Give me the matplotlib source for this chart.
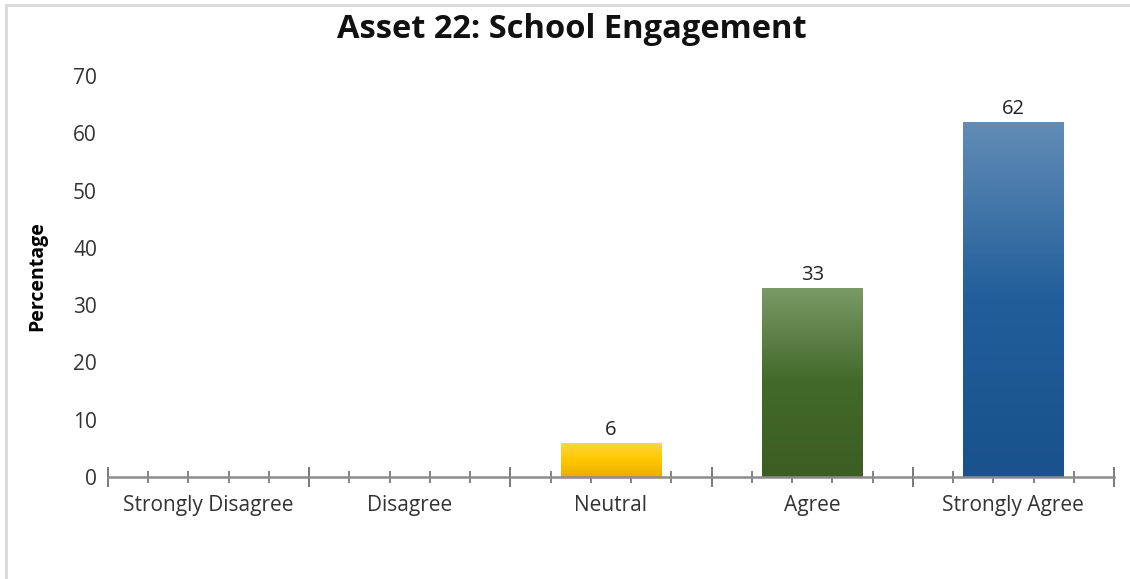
import numpy as np
import matplotlib
matplotlib.use("Agg")
import matplotlib.pyplot as plt
from matplotlib.colors import LinearSegmentedColormap
from matplotlib.lines import Line2D

plt.rcParams['font.family'] = ['Open Sans', 'DejaVu Sans']

# Data
categories = ["Strongly Disagree", "Disagree", "Neutral", "Agree", "Strongly Agree"]
percentages = [0, 0, 6, 33, 62]
labelled = [False, False, True, True, True]
y_ticks = [0, 10, 20, 30, 40, 50, 60, 70]

# Vertical gradient stops (top -> bottom) for each bar
gradients = {
    "Neutral": ["#FFD643", "#FFC800", "#E9AE00"],
    "Agree": ["#7A9A66", "#42692A", "#3B5E22"],
    "Strongly Agree": ["#628DB6", "#215E9A", "#19528C"],
}

W, H = 1130, 579
fig = plt.figure(figsize=(W / 100, H / 100), dpi=100)
ax = fig.add_axes([108 / W, 102 / H, (1114 - 108) / W, (477 - 76) / H])

x = np.arange(len(categories))
bars = ax.bar(x, percentages, width=0.5, color="none", edgecolor="none", zorder=2)

ax.set_xlim(-0.5, len(categories) - 0.5)
ax.set_ylim(0, 70)

# Gradient fills clipped to each bar
grad = np.linspace(0, 1, 256).reshape(-1, 1)
for cat, bar, val in zip(categories, bars, percentages):
    if cat not in gradients or val <= 0:
        continue
    cmap = LinearSegmentedColormap.from_list(cat, list(zip([0, 0.5, 1], gradients[cat])))
    x0 = bar.get_x()
    x1 = x0 + bar.get_width()
    im = ax.imshow(grad, cmap=cmap, aspect="auto", extent=(x0, x1, 0, val),
                   origin="upper", zorder=2, interpolation="bilinear")
    im.set_clip_path(bar)

# Value labels
for bar, val, show in zip(bars, percentages, labelled):
    if show:
        ax.annotate(f"{val}", (bar.get_x() + bar.get_width() / 2, val),
                    xytext=(0, 2), textcoords="offset points",
                    ha="center", va="bottom", fontsize=14.5, color="#222222")

# Axes styling
for side in ["left", "right", "top"]:
    ax.spines[side].set_visible(False)
ax.spines["bottom"].set_color("#8C8C8C")
ax.spines["bottom"].set_linewidth(1.8)
ax.spines["bottom"].set_zorder(3)

ax.set_yticks(y_ticks)
ax.tick_params(axis="y", length=0, pad=8, labelsize=15, labelcolor="#333333")

# Category boundaries as major ticks, sub-divisions as minor ticks
ax.set_xticks(np.arange(-0.5, len(categories), 1.0))
ax.set_xticklabels([])
ax.set_xticks(np.arange(-0.5, len(categories) - 0.4, 0.2), minor=True)
ax.tick_params(axis="x", which="major", direction="inout", length=14, width=1.3,
               color="#6E6E6E")
ax.tick_params(axis="x", which="minor", direction="inout", length=8, width=1.2,
               color="#6E6E6E")
for xi, cat in zip(x, categories):
    ax.text(xi, -0.07, cat, transform=ax.get_xaxis_transform(), ha="center",
            va="center", fontsize=15, color="#333333")

ax.set_ylabel("Percentage", fontsize=14, fontweight="bold")
ax.yaxis.set_label_coords((47 - 108) / (1114 - 108), 0.5)

fig.text(572 / W, 1 - 30 / H, "Asset 22: School Engagement", ha="center",
         va="center", fontsize=23.5, fontweight="bold", color="#111111")

# Light chart-area border
fig.add_artist(Line2D([6 / W, 1], [1 - 5 / H, 1 - 5 / H], transform=fig.transFigure,
                      color="#D9D9D9", linewidth=2))
fig.add_artist(Line2D([6 / W, 6 / W], [0, 1 - 5 / H], transform=fig.transFigure,
                      color="#D9D9D9", linewidth=2))

fig.savefig("out.png", dpi=100)
